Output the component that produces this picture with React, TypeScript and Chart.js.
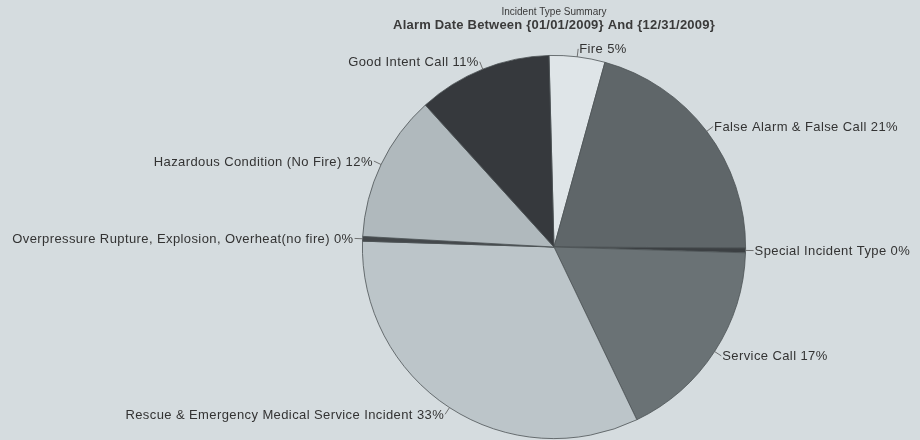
import React, { useEffect, useRef } from "react";
import { Chart, registerables } from "chart.js";

Chart.register(...registerables);

const titleText = "Incident Type Summary";
const subtitleText = "Alarm Date Between {01/01/2009} And {12/31/2009}";

const categories = [
  "Fire",
  "False Alarm & False Call",
  "Special Incident Type",
  "Service Call",
  "Rescue & Emergency Medical Service Incident",
  "Overpressure Rupture, Explosion, Overheat(no fire)",
  "Hazardous Condition (No Fire)",
  "Good Intent Call",
];

const shares = [4.7, 20.8, 0.4, 17.4, 32.6, 0.4, 12.4, 11.3];

const sliceColors = [
  "#dfe5e8",
  "#5f6669",
  "#3c4043",
  "#6a7275",
  "#bcc5c9",
  "#44484b",
  "#b0b9bd",
  "#36393d",
];

const BG = "#d5dcdf";

const bgPlugin = {
  id: "bgFill",
  beforeDraw(chart: any) {
    const ctx = chart.ctx;
    ctx.save();
    ctx.fillStyle = BG;
    ctx.fillRect(0, 0, chart.width, chart.height);
    ctx.restore();
  },
};

const labelPlugin = {
  id: "outerLabels",
  afterDraw(chart: any) {
    const ctx = chart.ctx;
    const meta = chart.getDatasetMeta(0);
    const data = chart.data.datasets[0].data as number[];
    const total = data.reduce((a: number, b: number) => a + b, 0);
    ctx.save();
    ctx.textAlign = "center";
    ctx.textBaseline = "middle";
    const cx0 = (chart.chartArea.left + chart.chartArea.right) / 2;
    ctx.fillStyle = "#3a3a3a";
    ctx.font = "10px 'Liberation Sans', Arial, sans-serif";
    (ctx as any).letterSpacing = "0px";
    ctx.fillText(titleText, cx0, 12);
    ctx.font = "bold 13px 'Liberation Sans', Arial, sans-serif";
    (ctx as any).letterSpacing = "0.2px";
    ctx.fillStyle = "#3a3a3a";
    ctx.fillText(subtitleText, cx0, 25);

    ctx.font = "13px 'Liberation Sans', Arial, sans-serif";
    (ctx as any).letterSpacing = "0.4px";
    meta.data.forEach((arc: any, i: number) => {
      const { x, y, startAngle, endAngle, outerRadius } = arc.getProps(
        ["x", "y", "startAngle", "endAngle", "outerRadius"],
        true
      );
      const mid = (startAngle + endAngle) / 2;
      const cos = Math.cos(mid);
      const sin = Math.sin(mid);
      const x1 = x + cos * outerRadius;
      const y1 = y + sin * outerRadius;
      const x2 = x + cos * (outerRadius + 8);
      const y2 = y + sin * (outerRadius + 8);
      ctx.strokeStyle = "#555";
      ctx.lineWidth = 0.8;
      ctx.beginPath();
      ctx.moveTo(x1, y1);
      ctx.lineTo(x2, y2);
      ctx.stroke();
      const pct = Math.round((data[i] / total) * 100);
      const txt = `${categories[i]} ${pct}%`;
      const right = cos >= 0;
      ctx.textAlign = right ? "left" : "right";
      ctx.textBaseline = "middle";
      ctx.fillStyle = "#333";
      ctx.fillText(txt, x2 + (right ? 1 : -1), y2 + 1);
    });
    ctx.restore();
  },
};

export default function App() {
  const ref = useRef<HTMLCanvasElement>(null);
  useEffect(() => {
    if (!ref.current) return;
    const chart = new Chart(ref.current, {
      type: "pie",
      data: {
        labels: categories,
        datasets: [
          {
            data: shares,
            backgroundColor: sliceColors,
            borderColor: "#4d5356",
            borderWidth: 0.8,
          },
        ],
      },
      options: {
        responsive: false,
        animation: false,
        devicePixelRatio: 1,
        rotation: -1.5,
        layout: { padding: { left: 362, right: 174, top: 55, bottom: 1 } },
        plugins: {
          legend: { display: false },
          title: { display: false },
          tooltip: { enabled: false },
        },
      },
      plugins: [bgPlugin, labelPlugin],
    });
    return () => chart.destroy();
  }, []);
  return (
    <div style={{ position: "fixed", left: 0, top: 0, width: 920, height: 440 }}>
      <canvas ref={ref} width={920} height={440} />
    </div>
  );
}
